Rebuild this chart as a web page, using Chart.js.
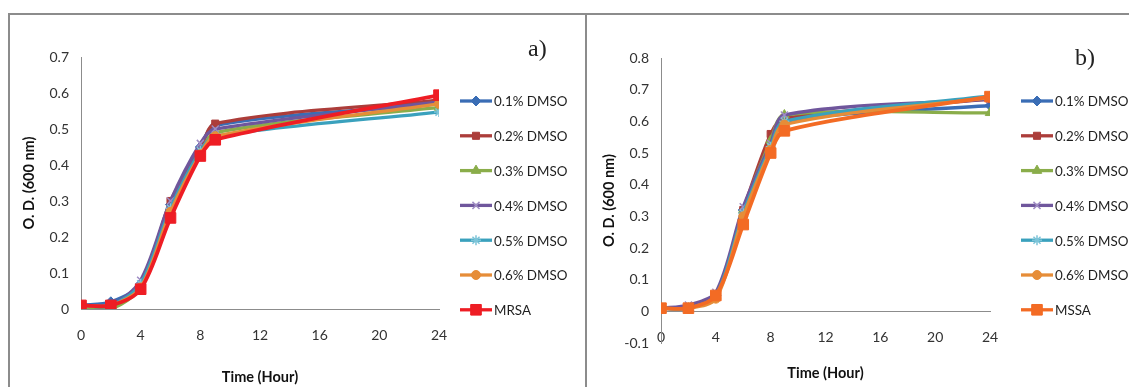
<!DOCTYPE html>
<html>
<head>
<meta charset="utf-8">
<title>Growth curves</title>
<script src="https://cdn.jsdelivr.net/npm/chart.js@4.4.0/dist/chart.umd.min.js"></script>
<style>
  html,body{margin:0;padding:0;background:#fff;width:1129px;height:387px;overflow:hidden}
  .rule{position:absolute;background:#8c8c8c}
  canvas{position:absolute;top:14px}
  #cA{left:9px}
  #cB{left:586px}
</style>
</head>
<body>
<div class="rule" style="left:8px;top:13px;width:1121px;height:1.5px"></div>
<div class="rule" style="left:8px;top:13px;width:1.5px;height:374px"></div>
<div class="rule" style="left:585px;top:13px;width:1.5px;height:374px"></div>
<canvas id="cA" width="576" height="373"></canvas>
<canvas id="cB" width="543" height="373"></canvas>
<script>
(function(){
  // sampling times (h)
  const hours = [0, 2, 4, 6, 8, 9, 24];
  const xTicks = [0, 4, 8, 12, 16, 20, 24];
  const yTicksA = [0, 0.1, 0.2, 0.3, 0.4, 0.5, 0.6, 0.7];
  const yTicksB = [-0.1, 0, 0.1, 0.2, 0.3, 0.4, 0.5, 0.6, 0.7, 0.8];

  const namesA = ['0.1% DMSO', '0.2% DMSO', '0.3% DMSO', '0.4% DMSO', '0.5% DMSO', '0.6% DMSO', 'MRSA'];
  const namesB = ['0.1% DMSO', '0.2% DMSO', '0.3% DMSO', '0.4% DMSO', '0.5% DMSO', '0.6% DMSO', 'MSSA'];

  // a) MRSA
  const a01  = [0.01, 0.02, 0.07, 0.29, 0.45, 0.51, 0.57];
  const a02  = [0.01, 0.01, 0.06, 0.30, 0.44, 0.515, 0.58];
  const a03  = [0.00, 0.00, 0.06, 0.28, 0.43, 0.49, 0.56];
  const a04  = [0.01, 0.01, 0.08, 0.30, 0.46, 0.50, 0.575];
  const a05  = [0.01, 0.01, 0.07, 0.28, 0.44, 0.48, 0.547];
  const a06  = [0.01, 0.01, 0.06, 0.27, 0.43, 0.48, 0.57];
  const aMRSA = [0.01, 0.01, 0.055, 0.253, 0.425, 0.47, 0.594];

  // b) MSSA
  const b01  = [0.01, 0.01, 0.05, 0.32, 0.53, 0.60, 0.65];
  const b02  = [0.01, 0.01, 0.05, 0.32, 0.56, 0.61, 0.67];
  const b03  = [0.01, 0.01, 0.05, 0.32, 0.54, 0.62, 0.627];
  const b04  = [0.01, 0.02, 0.06, 0.33, 0.53, 0.62, 0.67];
  const b05  = [0.01, 0.01, 0.05, 0.31, 0.52, 0.60, 0.68];
  const b06  = [0.01, 0.01, 0.04, 0.30, 0.51, 0.59, 0.675];
  const bMSSA = [0.01, 0.01, 0.05, 0.274, 0.50, 0.57, 0.678];

  // series looks, same order in both panels
  const lineColors  = ['#3a6db5', '#ac3d3a', '#8aad4a', '#6f569c', '#3aa1bd', '#e68d38'];
  const markColors  = ['#3a6db5', '#ac3d3a', '#8aad4a', '#9f8cc4', '#7cc4d8', '#e68d38'];
  const markStyles  = ['rectRot', 'rect', 'triangle', 'crossRot', 'star', 'circle', 'rect'];
  const markSizes   = [5, 5, 5.5, 5, 5, 4.5, 7.5];

  const FONT = 'Lato, "Open Sans", sans-serif';

  function buildSets(names, rows, lastColor){
    return rows.map((vals, i) => {
      const col = i < 6 ? lineColors[i] : lastColor;
      const mk  = i < 6 ? markColors[i] : lastColor;
      return {
        label: names[i],
        data: hours.map((h, k) => ({x: h, y: vals[k]})),
        borderColor: col,
        backgroundColor: col,
        borderWidth: i < 6 ? 3.3 : 3.8,
        tension: 0.3,
        pointStyle: markStyles[i],
        pointRadius: markSizes[i],
        pointBackgroundColor: mk,
        pointBorderColor: mk,
        pointBorderWidth: (i === 3 || i === 4) ? 1.5 : 1,
        order: rows.length - 1 - i
      };
    });
  }

  // line+marker legend rows and panel tag
  const sideLegend = {
    id: 'sideLegend',
    afterDraw(chart, args, o){
      const ctx = chart.ctx;
      ctx.save();
      chart.data.datasets.forEach((ds, i) => {
        const y = o.top + i * o.step;
        ctx.strokeStyle = ds.borderColor;
        ctx.lineWidth = 3.3;
        ctx.beginPath(); ctx.moveTo(o.x, y); ctx.lineTo(o.x + 32, y); ctx.stroke();
        ctx.fillStyle = ds.pointBackgroundColor;
        ctx.strokeStyle = ds.pointBorderColor;
        ctx.lineWidth = ds.pointBorderWidth;
        Chart.helpers.drawPoint(ctx, {pointStyle: ds.pointStyle, rotation: 0, radius: ds.pointRadius, borderWidth: ds.pointBorderWidth}, o.x + 16, y);
        ctx.fillStyle = '#1e1e1e';
        ctx.font = '13.4px ' + FONT;
        ctx.textAlign = 'left';
        ctx.textBaseline = 'middle';
        ctx.fillText(ds.label, o.x + 34, y + 1);
      });
      ctx.fillStyle = '#222';
      ctx.font = '24px "Liberation Serif", "Times New Roman", serif';
      ctx.textBaseline = 'alphabetic';
      ctx.fillText(o.tag, o.tagX, o.tagY);
      ctx.restore();
    }
  };

  function axisX(extra){
    return Object.assign({
      type: 'linear', min: 0, max: 24,
      afterBuildTicks: s => { s.ticks = xTicks.map(v => ({value: v})); },
      grid: {display: false, drawTicks: false},
      border: {display: true, color: '#8c8c8c', width: 1},
      ticks: {color: '#333', font: {family: FONT, size: 14}, padding: 18, maxRotation: 0},
      title: {display: true, text: 'Time (Hour)', color: '#111', font: {family: FONT, size: 14.5, weight: 'bold'}, padding: {top: 0, bottom: 1}}
    }, extra);
  }

  function axisY(ticks, width){
    return {
      type: 'linear', min: ticks[0], max: ticks[ticks.length - 1],
      afterBuildTicks: s => { s.ticks = ticks.map(v => ({value: v})); },
      afterFit: s => { s.width = width; },
      grid: {display: false, drawTicks: false},
      border: {display: true, color: '#8c8c8c', width: 1},
      ticks: {color: '#333', font: {family: FONT, size: 14}, padding: 12},
      title: {display: true, text: 'O. D. (600 nm)', color: '#111', font: {family: FONT, size: 14.5, weight: 'bold'}, padding: {top: width - 60, bottom: 0}}
    };
  }

  function makeChart(id, sets, xOpts, yOpts, pad, legendOpts){
    return new Chart(document.getElementById(id), {
      type: 'line',
      data: {datasets: sets},
      options: {
        responsive: false,
        animation: false,
        events: [],
        layout: {padding: pad},
        scales: {x: xOpts, y: yOpts},
        plugins: {legend: {display: false}, tooltip: {enabled: false}, sideLegend: legendOpts}
      },
      plugins: [sideLegend]
    });
  }

  makeChart('cA',
    buildSets(namesA, [a01, a02, a03, a04, a05, a06, aMRSA], '#ee1d24'),
    axisX({afterFit: s => { s.height = 78; }}),
    axisY(yTicksA, 72),
    {left: 0, top: 43, right: 146, bottom: 0},
    {x: 451, top: 87, step: 34.8, tag: 'a)', tagX: 519, tagY: 42});

  makeChart('cB',
    buildSets(namesB, [b01, b02, b03, b04, b05, b06, bMSSA], '#f36b24'),
    axisX({position: {y: 0}, afterFit: s => { s.height = 72; }}),
    axisY(yTicksB, 75),
    {left: 0, top: 44, right: 139, bottom: 44},
    {x: 435, top: 87, step: 34.8, tag: 'b)', tagX: 489, tagY: 51});
})();
</script>
</body>
</html>
